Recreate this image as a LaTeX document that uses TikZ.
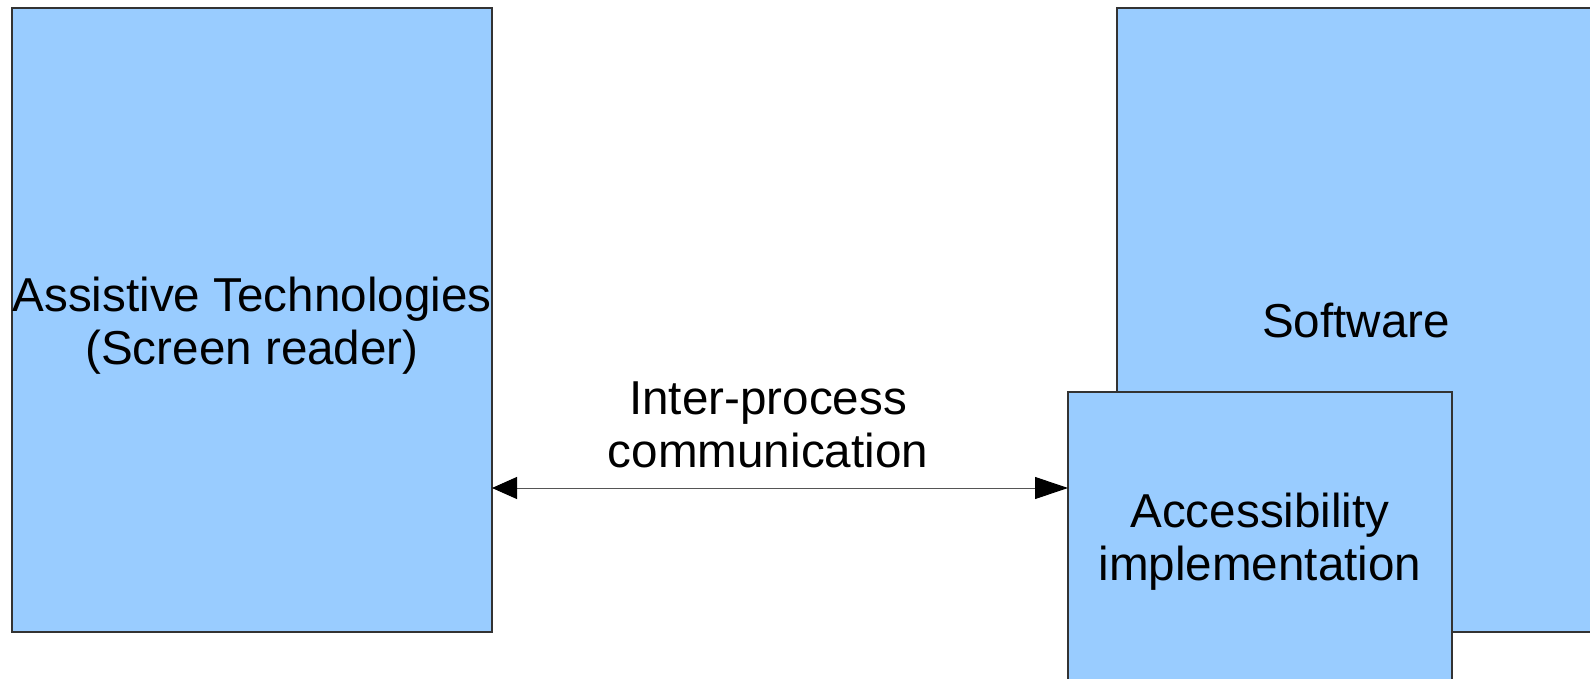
\documentclass[tikz,border=0pt]{standalone}
\usepackage{fontspec}
\setmainfont{Liberation Sans}
\usetikzlibrary{arrows.meta}
\definecolor{boxblue}{HTML}{99CCFF}
\definecolor{boxline}{HTML}{333333}
\definecolor{arrline}{HTML}{555555}
\tikzset{
  bluebox/.style={draw=boxline, fill=boxblue, line width=1.5pt, inner sep=0pt, outer sep=0pt, rectangle},
  lbl/.style={font=\fontsize{47.6}{53}\selectfont, align=center, inner sep=0pt, text=black},
}
\begin{document}
\begin{tikzpicture}[x=1pt,y=-1pt]
\useasboundingbox (0,0) rectangle (1590,679);
% boxes
\node[bluebox, minimum width=480pt, minimum height=624pt] (AT) at (252,320) {};
\node[bluebox, minimum width=483pt, minimum height=624pt, anchor=north west] (SW) at (1117,8) {};
\node[bluebox, minimum width=384pt, minimum height=320pt, anchor=north west] (ACC) at (1068,392) {};
% labels
\node[lbl] (ATlbl) at (252,325.5) {Assistive Technologies\\(Screen reader)};
\node[lbl, anchor=base] (SWlbl) at (1356,337) {Software};
\node[lbl] (IPC) at (768,425) {Inter-process\\communication};
\node[lbl] (ACClbl) at (1260,541.5) {Accessibility\\implementation};
% arrow
\coordinate (arrowy) at (0,488);
\draw[arrline, line width=1pt, {Triangle[length=25pt,width=22pt,fill=black,color=black]}-{Triangle[length=33pt,width=22pt,fill=black,color=black]}]
  (AT.east |- arrowy) -- (ACC.west |- arrowy);
\end{tikzpicture}
\end{document}
